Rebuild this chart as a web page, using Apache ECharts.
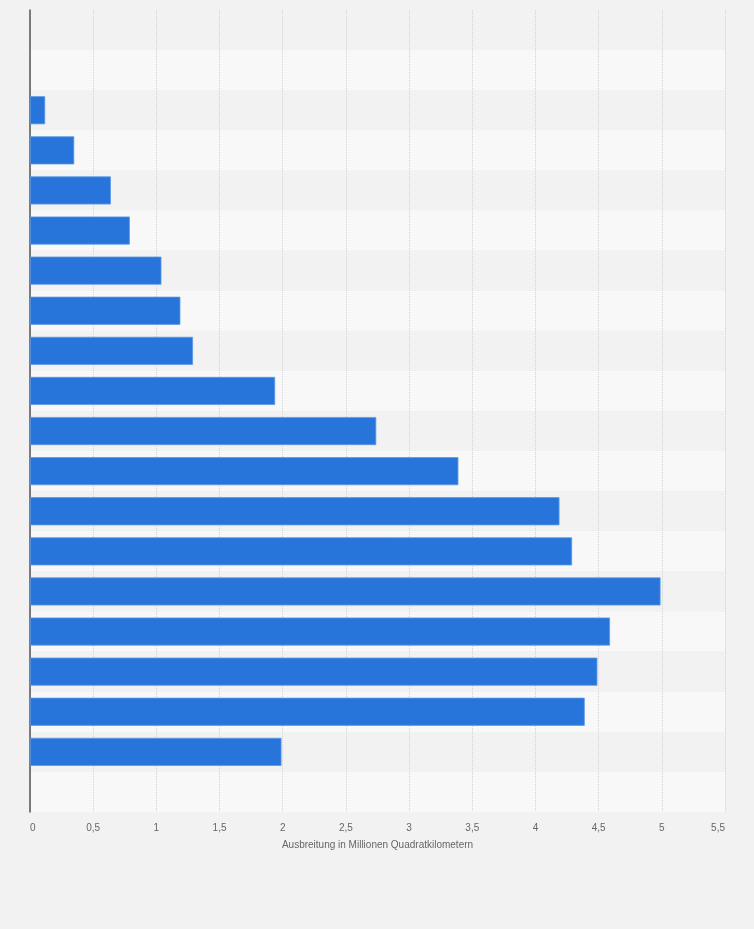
<!DOCTYPE html>
<html>
<head>
<meta charset="utf-8">
<script src="https://cdn.jsdelivr.net/npm/echarts@6/dist/echarts.min.js"></script>
<style>
  html, body { margin: 0; padding: 0; background: #f2f2f2; }
  #chart { width: 754px; height: 929px; }
</style>
</head>
<body>
<div id="chart"></div>
<script>
// rows top to bottom; the first two and the last row carry no bar
var categories = ['r1', 'r2', 'r3', 'r4', 'r5', 'r6', 'r7', 'r8', 'r9', 'r10',
    'r11', 'r12', 'r13', 'r14', 'r15', 'r16', 'r17', 'r18', 'r19', 'r20'];
var values = [null, null, 0.12, 0.35, 0.64, 0.79, 1.04, 1.19, 1.29, 1.94,
    2.74, 3.39, 4.19, 4.29, 4.99, 4.59, 4.49, 4.39, 1.99, null];
var xTicks = [0, 0.5, 1, 1.5, 2, 2.5, 3, 3.5, 4, 4.5, 5, 5.5];
var axisTitle = 'Ausbreitung in Millionen Quadratkilometern';

var chart = echarts.init(document.getElementById('chart'), null, { renderer: 'canvas' });

var option = {
    backgroundColor: '#f2f2f2',
    animation: false,
    grid: { left: 30, right: 29, top: 10, bottom: 117, containLabel: false },
    xAxis: {
        type: 'value',
        min: xTicks[0],
        max: xTicks[xTicks.length - 1],
        interval: 0.5,
        name: axisTitle,
        nameLocation: 'middle',
        nameGap: 28,
        nameTextStyle: { color: '#666', fontSize: 10, fontFamily: 'Arial, Liberation Sans, sans-serif' },
        axisLine: { show: false },
        axisTick: { show: false },
        axisLabel: {
            color: '#666',
            fontSize: 10,
            margin: 11,
            fontFamily: 'Arial, Liberation Sans, sans-serif',
            alignMinLabel: 'left',
            alignMaxLabel: 'right',
            formatter: function (v) { return String(v).replace('.', ','); }
        },
        splitLine: { show: true, lineStyle: { color: '#d2d2d2', type: [1, 1], width: 1 } }
    },
    yAxis: {
        type: 'category',
        data: categories,
        inverse: true,
        axisLine: { show: true, lineStyle: { color: '#555', width: 1.5 } },
        axisTick: { show: false },
        axisLabel: { show: false },
        splitLine: { show: false },
        splitArea: { show: true, areaStyle: { color: ['#f2f2f2', '#f8f8f8'] } }
    },
    series: [{
        type: 'bar',
        data: values,
        barCategoryGap: '30%',
        itemStyle: { color: '#2775db', borderColor: '#5c98e6', borderWidth: 0.8 }
    }]
};

chart.setOption(option);
window.addEventListener('resize', chart.resize);
</script>
</body>
</html>
